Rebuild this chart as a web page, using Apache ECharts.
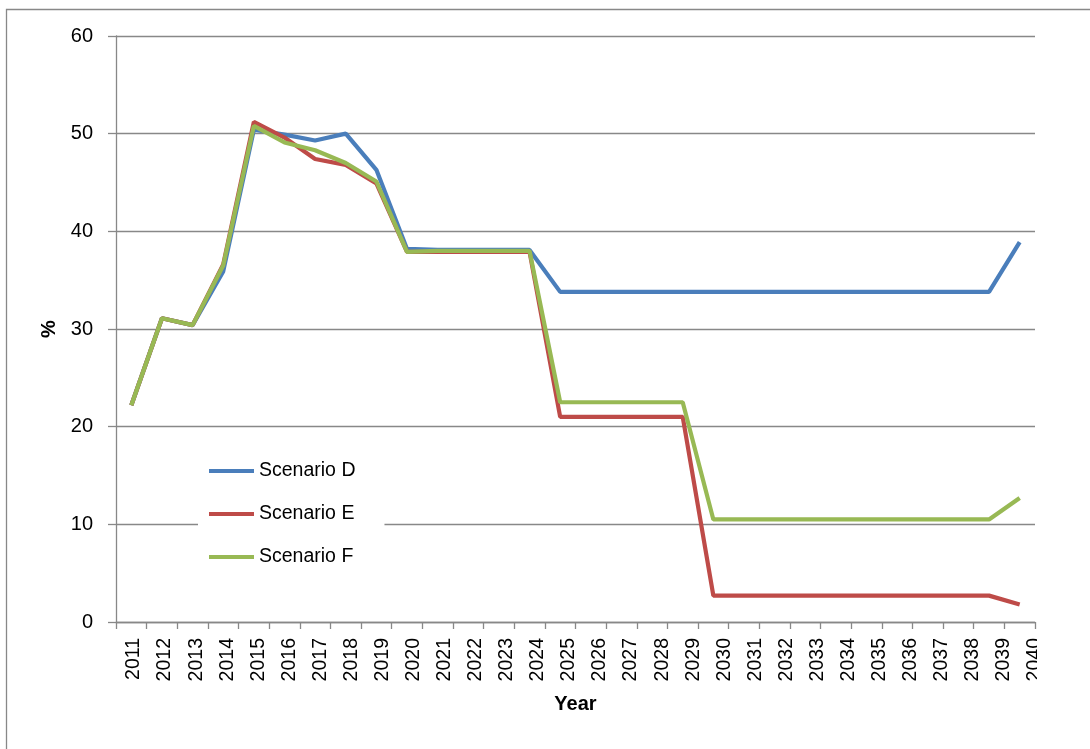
<!DOCTYPE html>
<html>
<head>
<meta charset="utf-8">
<script src="https://cdn.jsdelivr.net/npm/echarts@6/dist/echarts.min.js"></script>
<style>
  html, body { margin: 0; padding: 0; background: #ffffff; }
  #chart { width: 1090px; height: 749px; }
</style>
</head>
<body>
<div id="chart"></div>
<script>
// Years on the category axis
const years = ['2011','2012','2013','2014','2015','2016','2017','2018','2019','2020',
               '2021','2022','2023','2024','2025','2026','2027','2028','2029','2030',
               '2031','2032','2033','2034','2035','2036','2037','2038','2039','2040'];

// Share (%) per scenario
const scenarioD = [22.2, 31.1, 30.4, 35.9, 50.4, 49.9, 49.3, 50.0, 46.3, 38.2,
                   38.1, 38.1, 38.1, 38.1, 33.8, 33.8, 33.8, 33.8, 33.8, 33.8,
                   33.8, 33.8, 33.8, 33.8, 33.8, 33.8, 33.8, 33.8, 33.8, 38.9];
const scenarioE = [22.2, 31.1, 30.4, 36.6, 51.2, 49.6, 47.4, 46.8, 44.9, 37.9,
                   37.9, 37.9, 37.9, 37.9, 21.0, 21.0, 21.0, 21.0, 21.0, 2.7,
                   2.7, 2.7, 2.7, 2.7, 2.7, 2.7, 2.7, 2.7, 2.7, 1.8];
const scenarioF = [22.2, 31.1, 30.4, 36.5, 50.8, 49.1, 48.3, 47.0, 45.1, 37.9,
                   38.0, 38.0, 38.0, 38.0, 22.5, 22.5, 22.5, 22.5, 22.5, 10.5,
                   10.5, 10.5, 10.5, 10.5, 10.5, 10.5, 10.5, 10.5, 10.5, 12.7];

const yTicks = { min: 0, max: 60, interval: 10 };

const FONT = '"Liberation Sans", Arial, sans-serif';
const GRAY = '#888888';

const chart = echarts.init(document.getElementById('chart'), null, { renderer: 'canvas' });

function lineSeries(name, data, color) {
  return {
    name: name,
    type: 'line',
    data: data,
    xAxisIndex: 0,
    yAxisIndex: 0,
    symbol: 'none',
    smooth: false,
    lineStyle: { color: color, width: 4.2 },
    itemStyle: { color: color },
    emphasis: { disabled: true },
    animation: false
  };
}

chart.setOption({
  backgroundColor: '#ffffff',
  animation: false,
  textStyle: { fontFamily: FONT },
  grid: [
    { left: 116, right: 55, top: 36, bottom: 127 },
    // label strip for the year axis
    { left: 134, right: 55, top: 36, bottom: 127 }
  ],
  xAxis: [
    {
      type: 'category',
      gridIndex: 0,
      data: years,
      boundaryGap: true,
      axisLine: { show: true, lineStyle: { color: GRAY, width: 1.3 } },
      axisTick: { show: true, interval: 0, length: 7, lineStyle: { color: GRAY, width: 1.3 } },
      axisLabel: { show: false },
      splitLine: { show: false },
      name: 'Year',
      nameLocation: 'middle',
      nameGap: 72,
      nameTextStyle: { fontFamily: FONT, fontSize: 20, fontWeight: 'bold', color: '#000' }
    },
    {
      type: 'category',
      gridIndex: 1,
      data: years,
      boundaryGap: false,
      axisLine: { show: false },
      axisTick: { show: false },
      splitLine: { show: false },
      axisLabel: {
        show: true, interval: 0, rotate: 90, margin: 16,
        fontFamily: FONT, fontSize: 19.5, color: '#000'
      }
    }
  ],
  yAxis: [
    {
      type: 'value',
      gridIndex: 0,
      min: yTicks.min,
      max: yTicks.max,
      interval: yTicks.interval,
      axisLine: { show: true, lineStyle: { color: GRAY, width: 1.3 } },
      axisTick: { show: true, length: 8, lineStyle: { color: GRAY, width: 1.3 } },
      splitLine: { show: true, lineStyle: { color: GRAY, width: 1.3 } },
      axisLabel: { margin: 23, fontFamily: FONT, fontSize: 20, color: '#000' },
      name: '%',
      nameLocation: 'middle',
      nameGap: 54,
      nameRotate: 90,
      nameTextStyle: { fontFamily: FONT, fontSize: 20, fontWeight: 'bold', color: '#000' }
    },
    {
      type: 'value',
      gridIndex: 1,
      min: 0, max: 1,
      show: false
    }
  ],
  legend: {
    data: ['Scenario D', 'Scenario E', 'Scenario F'],
    orient: 'vertical',
    left: 198,
    top: 447,
    backgroundColor: '#ffffff',
    padding: [12, 29, 12, 11],
    icon: 'rect',
    itemWidth: 45,
    itemHeight: 4,
    itemGap: 19,
    selectedMode: false,
    textStyle: { fontFamily: FONT, fontSize: 19.5, color: '#000', lineHeight: 24 }
  },
  series: [
    lineSeries('Scenario D', scenarioD, '#4a7ebb'),
    lineSeries('Scenario E', scenarioE, '#be4b48'),
    lineSeries('Scenario F', scenarioF, '#98b954')
  ],
  graphic: [
    // outer chart frame
    {
      type: 'rect',
      z: 100,
      shape: { x: 6.5, y: 9.5, width: 1200, height: 900 },
      style: { fill: 'none', stroke: GRAY, lineWidth: 1.3 },
      silent: true
    },
    // chart area ends at the right, trimming the last year label
    {
      type: 'rect',
      z: 100,
      shape: { x: 1037, y: 628, width: 60, height: 70 },
      style: { fill: '#ffffff' },
      silent: true
    }
  ]
});
</script>
</body>
</html>
